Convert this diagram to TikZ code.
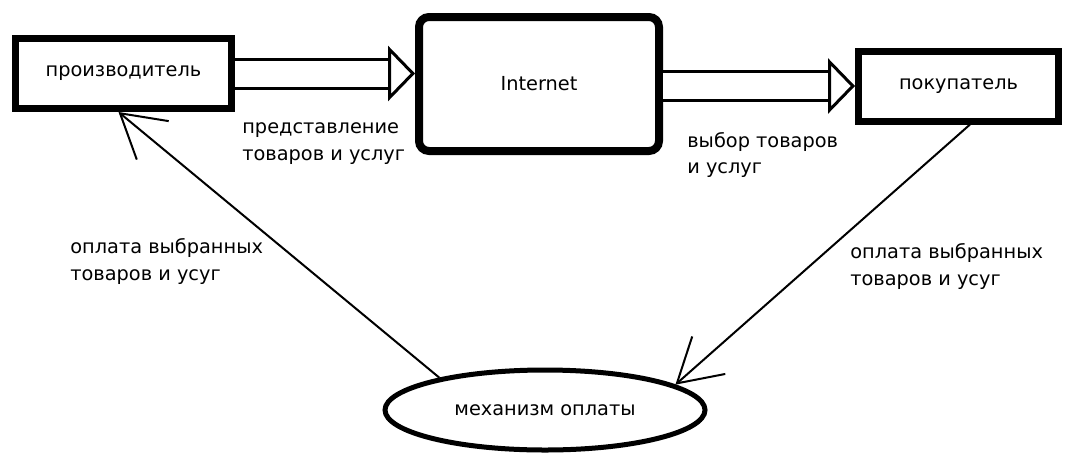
\documentclass[tikz,border=0pt]{standalone}
\usepackage{fontspec}
\setmainfont{DejaVu Sans}
\usepackage{tikz}
\usetikzlibrary{shapes,arrows.meta,positioning}
\tikzstyle{block} = [rectangle, draw, line width=0.14cm, text centered, inner sep=0pt, minimum width=4.32cm, minimum height=1.4cm]
\tikzstyle{netblock} = [rectangle, draw, line width=0.16cm, rounded corners=0.2cm, text centered, inner sep=0pt, minimum width=4.8cm, minimum height=2.68cm]
\tikzstyle{cloud} = [draw, ellipse, line width=0.1cm, inner sep=0pt, minimum width=6.4cm, minimum height=1.6cm]
\tikzstyle{textlabel} = [align=left, anchor=west, inner sep=0pt]
\tikzstyle{bigline} = [draw, double, line width=0.06cm, double distance=0.52cm, -{Triangle[open, length=0.54cm, width=1.1cm, line width=0.06cm]}]
\tikzstyle{line} = [draw, line width=0.04cm, -{Straight Barb[length=0.85cm, width=1cm, line width=0.04cm]}]

\begin{document}
\begin{tikzpicture}[node distance = 2cm, font=\fontsize{11}{15.3}\selectfont]
    \useasboundingbox (0,0) rectangle (21.36,-9.26);
    % Place nodes
    \node [block] (prod) at (2.47,-1.47) {производитель};
    \node [netblock, right of=prod, node distance=8.31cm, yshift=-0.21cm] (inet) {Internet};
    \node [block, minimum width=4cm, right of=inet, node distance=8.39cm, yshift=-0.04cm] (buyer) {покупатель};
    \node [cloud, below of=inet, node distance=6.52cm, xshift=0.12cm] (pay) {механизм оплаты};
    \node [textlabel] (show) at (4.84,-2.87) {представление\\товаров и услуг};
    \node [textlabel] (choice) at (13.74,-3.10) {выбор товаров\\и услуг};
    \node [textlabel] (payleft) at (1.40,-5.23) {оплата выбранных\\товаров и усуг};
    \node [textlabel] (payright) at (17.0,-5.33) {оплата выбранных\\товаров и усуг};

    % Draw edges
    \path [bigline] (prod.east) -- (prod.east -| inet.west);
    \path [bigline] (inet.east |- buyer.west) -- (buyer.west);
    \path [line] (pay.163) -- ([xshift=-0.1cm]prod.south);
    \path [line] ([xshift=0.23cm]buyer.south) -- (pay.11);
\end{tikzpicture}
\end{document}
